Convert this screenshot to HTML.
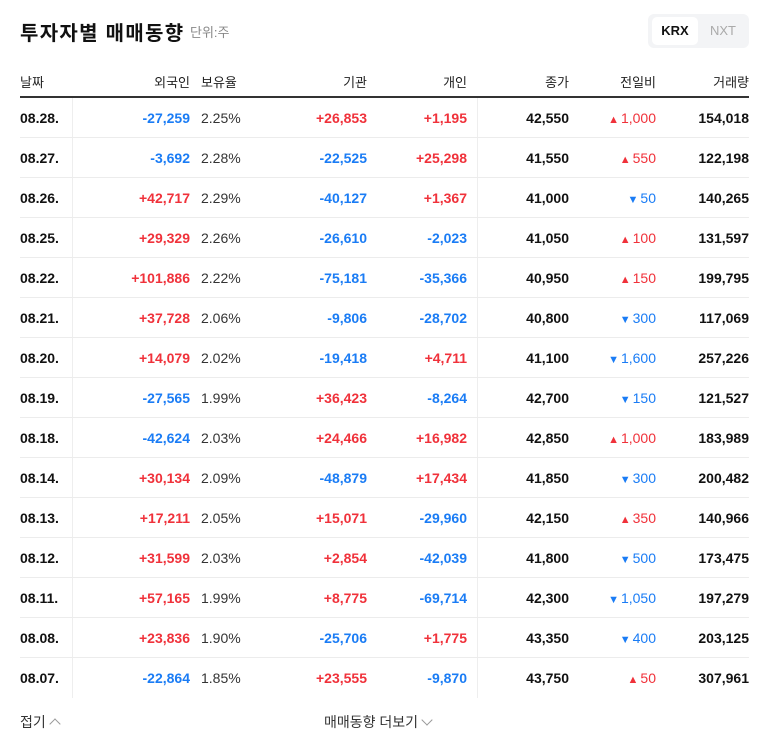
<!DOCTYPE html>
<html><head><meta charset="utf-8"><style>
body{margin:0;width:768px;height:749px;background:#fff;font-family:"Liberation Sans","Noto Sans CJK KR",sans-serif;position:relative;overflow:hidden;color:#111}
.abs{position:absolute}
#title{left:20px;top:17px;font-size:20px;font-weight:bold;letter-spacing:1.3px}
#unit{left:190px;top:22px;font-size:13px;color:#888}
#toggle{left:648px;top:14px;width:101px;height:34px;background:#f3f4f6;border-radius:6px}
#krx{left:4px;top:3px;width:46px;height:28px;background:#fff;border-radius:5px;font-size:13px;font-weight:bold;text-align:center;line-height:28px}
#nxt{left:52px;top:3px;width:46px;height:28px;font-size:13px;color:#aaa;text-align:center;line-height:28px}
.h{top:72px;font-size:13px;color:#222}
#hline{left:20px;top:96px;width:729px;height:2px;background:#333}
.row{position:absolute;left:20px;width:729px;height:40px;border-bottom:1px solid #ececec;box-sizing:border-box}
.row.last{border-bottom:none}
.row div{position:absolute;top:0;line-height:40px;font-size:14px;white-space:nowrap}
.r{text-align:right}
.red{color:#f0313a}.blue{color:#1a7cf5}
.b{font-weight:bold}
.tri{font-size:11px;margin-right:2px}
.vs{position:absolute;top:98px;height:600px;width:1px;background:#eee}
#foot1{left:20px;top:712px;font-size:14px;color:#333}
#foot2{left:324px;top:712px;font-size:14px;color:#333}
.chev{display:inline-block;width:7px;height:7px;border-left:1px solid #999;border-top:1px solid #999;margin-left:5px}
</style></head><body>
<div class="abs" id="title">투자자별 매매동향</div>
<div class="abs" id="unit">단위:주</div>
<div class="abs" id="toggle">
<div class="abs" id="krx">KRX</div>
<div class="abs" id="nxt">NXT</div></div>
<div class="abs h" style="left:20px">날짜</div>
<div class="abs h r" style="right:578px">외국인</div>
<div class="abs h" style="left:201px">보유율</div>
<div class="abs h r" style="right:401px">기관</div>
<div class="abs h r" style="right:301px">개인</div>
<div class="abs h r" style="right:199px">종가</div>
<div class="abs h r" style="right:112px">전일비</div>
<div class="abs h r" style="right:19px">거래량</div>
<div class="abs" id="hline"></div>
<div class="vs" style="left:72px"></div>
<div class="vs" style="left:477px"></div>
<div id="rows"></div>
<div class="abs" id="foot1">접기<span class="chev" style="transform:translateY(1px) rotate(45deg)"></span></div>
<div class="abs" id="foot2">매매동향 더보기<span class="chev" style="transform:translateY(-3px) rotate(225deg)"></span></div>
<script>
const dates=["08.28.","08.27.","08.26.","08.25.","08.22.","08.21.","08.20.","08.19.","08.18.","08.14.","08.13.","08.12.","08.11.","08.08.","08.07."];
const foreign=[-27259,-3692,42717,29329,101886,37728,14079,-27565,-42624,30134,17211,31599,57165,23836,-22864];
const holding=["2.25%","2.28%","2.29%","2.26%","2.22%","2.06%","2.02%","1.99%","2.03%","2.09%","2.05%","2.03%","1.99%","1.90%","1.85%"];
const inst=[26853,-22525,-40127,-26610,-75181,-9806,-19418,36423,24466,-48879,15071,2854,8775,-25706,23555];
const indiv=[1195,25298,1367,-2023,-35366,-28702,4711,-8264,16982,17434,-29960,-42039,-69714,1775,-9870];
const closes=[42550,41550,41000,41050,40950,40800,41100,42700,42850,41850,42150,41800,42300,43350,43750];
const change=[1000,550,-50,100,150,-300,-1600,-150,1000,-300,350,-500,-1050,-400,50];
const volume=[154018,122198,140265,131597,199795,117069,257226,121527,183989,200482,140966,173475,197279,203125,307961];
const fmt=v=>Math.abs(v).toLocaleString('en-US');
const sg=v=>(v>0?'+':'-')+fmt(v);
const cls=v=>v>0?'red':'blue';
const rows=document.getElementById('rows');
dates.forEach((d,i)=>{
 const r=document.createElement('div');r.className='row'+(i===dates.length-1?' last':'');r.style.top=(98+i*40)+'px';
 
 
 const cells=[
  ['date-cell','left:0;font-weight:bold',d,''],
  ['foreign-cell','right:559px',sg(foreign[i]),cls(foreign[i])+' b r'],
  ['holding-cell','left:181px;color:#333',holding[i],''],
  ['institution-cell','right:382px',sg(inst[i]),cls(inst[i])+' b r'],
  ['individual-cell','right:282px',sg(indiv[i]),cls(indiv[i])+' b r'],
  ['close-cell','right:180px',fmt(closes[i]),'b r'],
  ['change-cell','right:93px',(change[i]>0?'<span class="tri">▲</span>':'<span class="tri">▼</span>')+fmt(change[i]),cls(change[i])+' r'],
  ['volume-cell','right:0',fmt(volume[i]),'b r']];
 cells.forEach(c=>{const e=document.createElement('div');e.className=c[3];e.style.cssText=c[1];e.innerHTML=c[2];
  
  
  r.appendChild(e);});
 rows.appendChild(r);
});
</script>
</body></html>
